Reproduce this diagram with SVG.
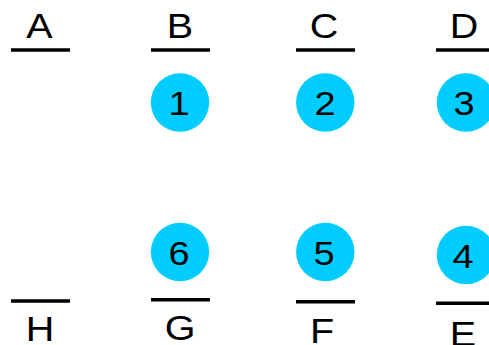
<svg xmlns="http://www.w3.org/2000/svg" width="489" height="345" viewBox="0 0 489 345">
<style>
.lbl{font-family:"Liberation Sans",Arial,sans-serif;font-size:35px;fill:#000;text-anchor:middle}
.num{font-family:"Liberation Sans",Arial,sans-serif;font-size:33px;fill:#000;text-anchor:middle}
.bar{stroke:#000;stroke-width:3.5;fill:none}
.dot{fill:#00CCFF}
</style>
<rect width="489" height="345" fill="#fff"/>
<g id="connectors">
<line class="bar" x1="11" y1="50" x2="70" y2="50"/>
<line class="bar" x1="151" y1="50" x2="210" y2="50"/>
<line class="bar" x1="296" y1="50" x2="355" y2="50"/>
<line class="bar" x1="436" y1="50" x2="495" y2="50"/>
<line class="bar" x1="11" y1="301" x2="70" y2="301"/>
<line class="bar" x1="151" y1="299.8" x2="210" y2="299.8"/>
<line class="bar" x1="296" y1="301.8" x2="355" y2="301.8"/>
<line class="bar" x1="436" y1="303.2" x2="495" y2="303.2"/>
</g>
<g id="A"><text class="lbl" transform="translate(39.5,37.5) scale(1.13,1)">A</text></g>
<g id="B"><text class="lbl" transform="translate(180,37.5) scale(1.13,1)">B</text></g>
<g id="C"><text class="lbl" transform="translate(324,37.5) scale(1.13,1)">C</text></g>
<g id="D"><text class="lbl" transform="translate(464,37.5) scale(1.13,1)">D</text></g>
<g id="H"><text class="lbl" transform="translate(40,341) scale(1.13,1)">H</text></g>
<g id="G"><text class="lbl" transform="translate(180,339.8) scale(1.13,1)">G</text></g>
<g id="F"><text class="lbl" transform="translate(322,342.5) scale(1.13,1)">F</text></g>
<g id="E"><text class="lbl" transform="translate(463,345.5) scale(1.13,1)">E</text></g>
<g id="n1"><circle class="dot" cx="180" cy="102.5" r="29.2"/><text class="num" transform="translate(179,115) scale(1.15,1)">1</text></g>
<g id="n2"><circle class="dot" cx="325.3" cy="102.5" r="29.2"/><text class="num" transform="translate(325,115) scale(1.15,1)">2</text></g>
<g id="n3"><circle class="dot" cx="466" cy="102.5" r="29.2"/><text class="num" transform="translate(464,115) scale(1.15,1)">3</text></g>
<g id="n6"><circle class="dot" cx="180" cy="252" r="29.2"/><text class="num" transform="translate(179,264.5) scale(1.15,1)">6</text></g>
<g id="n5"><circle class="dot" cx="325.3" cy="252" r="29.2"/><text class="num" transform="translate(324,264.5) scale(1.15,1)">5</text></g>
<g id="n4"><circle class="dot" cx="466" cy="255" r="29.2"/><text class="num" transform="translate(463,267.5) scale(1.15,1)">4</text></g>
</svg>
